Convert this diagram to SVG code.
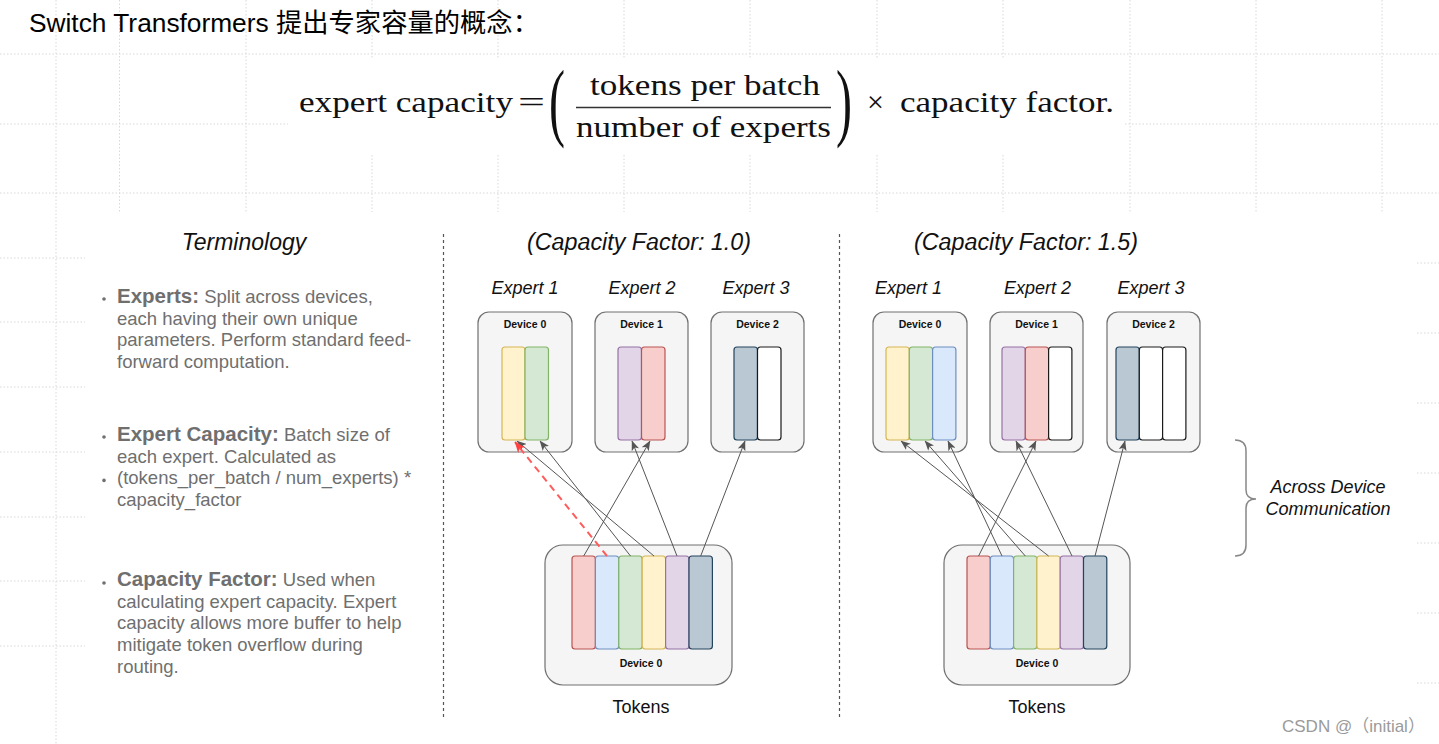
<svg xmlns="http://www.w3.org/2000/svg" width="1439" height="744" viewBox="0 0 1439 744">
<style>
.grid{stroke:#d8d8d8;stroke-width:1;stroke-dasharray:1.5 2;fill:none}
.sans{font-family:"Liberation Sans",Arial,"Noto Sans CJK SC",sans-serif}
.serif{font-family:"Liberation Serif","Times New Roman",serif;font-size:30px;fill:#111}
.term{font-size:18.5px;fill:#6f6f6f}
.tb{font-weight:bold;font-size:20.5px}
.head{font-style:italic;font-size:23px;fill:#111;text-anchor:middle}
.exp{font-style:italic;font-size:18px;fill:#111;text-anchor:middle}
.dev{fill:#f5f5f5;stroke:#707070;stroke-width:1.2}
.dl{font-weight:bold;font-size:10.5px;fill:#111;text-anchor:middle}
.y{fill:#fff2cc;stroke:#d6b656;stroke-width:1.2}
.g{fill:#d5e8d4;stroke:#82b366;stroke-width:1.2}
.b{fill:#dae8fc;stroke:#6c8ebf;stroke-width:1.2}
.r{fill:#f8cecc;stroke:#b85450;stroke-width:1.2}
.p{fill:#e1d5e7;stroke:#9673a6;stroke-width:1.2}
.s{fill:#bac8d3;stroke:#23445d;stroke-width:1.2}
.w{fill:#ffffff;stroke:#1a1a1a;stroke-width:1.2}
.sep{stroke:#555;stroke-width:1.2;stroke-dasharray:3 3;fill:none}
.cn{stroke:#555;stroke-width:1;fill:none;marker-end:url(#ah)}
.ov{stroke:#ff5c5c;stroke-width:2;stroke-dasharray:7 5;fill:none;marker-end:url(#ahr)}
.bul{fill:#6f6f6f}
.lbl{font-size:18px;fill:#111;text-anchor:middle}
</style>
<defs>
<marker id="ah" viewBox="0 0 10 8" refX="9.5" refY="4" markerWidth="10" markerHeight="8" markerUnits="userSpaceOnUse" orient="auto"><path d="M0,0 L10,4 L0,8 L2.5,4 z" fill="#555"/></marker>
<marker id="ahr" viewBox="0 0 10 8" refX="9.5" refY="4" markerWidth="11" markerHeight="9" markerUnits="userSpaceOnUse" orient="auto"><path d="M0,0 L10,4 L0,8 L2.5,4 z" fill="#ff4040"/></marker>
</defs>
<rect width="1439" height="744" fill="#ffffff"/>
<g id="grid" class="grid">
<path d="M0,54H1439 M0,124H288 M1125,124H1439 M0,193H1439"/>
<path d="M56,0V744 M119.5,0V212 M246,0V212 M1130,0V212 M1256,0V212 M1382,0V212"/>
<path d="M372,0V58 M372,155V212 M498,0V58 M498,155V212 M624,0V58 M624,155V212 M750,0V58 M750,155V212 M877,0V58 M877,155V212 M1003,0V58 M1003,155V212"/>
<path d="M0,258H85 M0,322H85 M0,387H85 M0,452H85 M0,517H85 M0,581H85 M0,646H85"/>
<path d="M1417,263H1439 M1417,333H1439 M1417,403H1439 M1417,473H1439 M1417,543H1439 M1417,613H1439 M1417,683H1439"/>
</g>
<g id="title">
<text class="sans" x="29" y="32" font-size="26.3" fill="#000">Switch Transformers 提出专家容量的概念：</text>
</g>
<g id="formula" class="serif">
<text x="299" y="112" textLength="214" lengthAdjust="spacingAndGlyphs">expert capacity</text>
<text x="518" y="112" textLength="27" lengthAdjust="spacingAndGlyphs">=</text>
<text transform="translate(549,129.5) scale(1.6,2.9)">(</text>
<text x="590" y="95" textLength="230" lengthAdjust="spacingAndGlyphs">tokens per batch</text>
<line x1="576" y1="107.5" x2="831" y2="107.5" stroke="#333" stroke-width="1.6"/>
<text x="576" y="137" textLength="255" lengthAdjust="spacingAndGlyphs">number of experts</text>
<text transform="translate(836,129.5) scale(1.6,2.9)">)</text>
<text x="867" y="112">×</text>
<text x="900" y="112" textLength="214" lengthAdjust="spacingAndGlyphs">capacity factor.</text>
</g>
<g id="separators">
<line class="sep" x1="443.5" y1="234" x2="443.5" y2="719"/>
<line class="sep" x1="839.5" y1="234" x2="839.5" y2="719"/>
</g>
<g id="terminology" class="sans">
<text class="head" x="244" y="250" font-size="22.5">Terminology</text>
<circle class="bul" cx="104" cy="299" r="1.8"/>
<circle class="bul" cx="104" cy="437" r="1.8"/>
<circle class="bul" cx="104" cy="480.4" r="1.8"/>
<circle class="bul" cx="104" cy="583" r="1.8"/>
<text class="term" x="117"><tspan x="117" y="303"><tspan class="tb">Experts:</tspan> Split across devices,</tspan><tspan x="117" y="324.7">each having their own unique</tspan><tspan x="117" y="346.4">parameters. Perform standard feed-</tspan><tspan x="117" y="368.1">forward computation.</tspan></text>
<text class="term" x="117"><tspan x="117" y="441"><tspan class="tb">Expert Capacity:</tspan> Batch size of</tspan><tspan x="117" y="462.7">each expert. Calculated as</tspan><tspan x="117" y="484.4">(tokens_per_batch / num_experts) *</tspan><tspan x="117" y="506.1">capacity_factor</tspan></text>
<text class="term" x="117"><tspan x="117" y="586"><tspan class="tb">Capacity Factor:</tspan> Used when</tspan><tspan x="117" y="607.7">calculating expert capacity. Expert</tspan><tspan x="117" y="629.4">capacity allows more buffer to help</tspan><tspan x="117" y="651.1">mitigate token overflow during</tspan><tspan x="117" y="672.8">routing.</tspan></text>
</g>
<g id="cf10-title" class="sans"><text class="head" x="639" y="250" textLength="224" lengthAdjust="spacingAndGlyphs">(Capacity Factor: 1.0)</text></g>
<g id="cf15-title" class="sans"><text class="head" x="1026" y="250" textLength="224" lengthAdjust="spacingAndGlyphs">(Capacity Factor: 1.5)</text></g>
<g id="cf10-expert1" class="sans">
<text class="exp" x="525" y="294">Expert 1</text>
<rect class="dev" x="478" y="312" width="94" height="140" rx="11"/>
<text class="dl" x="525" y="328">Device 0</text>
<rect class="y" x="502" y="347" width="23" height="93" rx="3"/>
<rect class="g" x="525" y="347" width="23.5" height="93" rx="3"/>
</g>
<g id="cf10-expert2" class="sans">
<text class="exp" x="642" y="294">Expert 2</text>
<rect class="dev" x="595" y="312" width="93" height="140" rx="11"/>
<text class="dl" x="641.5" y="328">Device 1</text>
<rect class="p" x="618" y="347" width="23.5" height="93" rx="3"/>
<rect class="r" x="641.5" y="347" width="23.5" height="93" rx="3"/>
</g>
<g id="cf10-expert3" class="sans">
<text class="exp" x="756" y="294">Expert 3</text>
<rect class="dev" x="711" y="312" width="93" height="140" rx="11"/>
<text class="dl" x="757.5" y="328">Device 2</text>
<rect class="s" x="734" y="347" width="23.5" height="93" rx="3"/>
<rect class="w" x="757.5" y="347" width="23.5" height="93" rx="3"/>
</g>
<g id="cf10-tokens" class="sans">
<rect class="dev" x="545" y="545" width="187" height="140" rx="18"/>
<rect class="r" x="572" y="556" width="23.4" height="93" rx="3"/>
<rect class="b" x="595.4" y="556" width="23.4" height="93" rx="3"/>
<rect class="g" x="618.8" y="556" width="23.4" height="93" rx="3"/>
<rect class="y" x="642.2" y="556" width="23.4" height="93" rx="3"/>
<rect class="p" x="665.6" y="556" width="23.4" height="93" rx="3"/>
<rect class="s" x="689" y="556" width="23.4" height="93" rx="3"/>
<text class="dl" x="641" y="667">Device 0</text>
<text class="lbl" x="641" y="713">Tokens</text>
</g>
<g id="cf15-expert1" class="sans">
<text class="exp" x="908.5" y="294">Expert 1</text>
<rect class="dev" x="873" y="312" width="94" height="140" rx="11"/>
<text class="dl" x="920" y="328">Device 0</text>
<rect class="y" x="886" y="347" width="23.3" height="93" rx="3"/>
<rect class="g" x="909.3" y="347" width="23.3" height="93" rx="3"/>
<rect class="b" x="932.6" y="347" width="23.3" height="93" rx="3"/>
</g>
<g id="cf15-expert2" class="sans">
<text class="exp" x="1037.5" y="294">Expert 2</text>
<rect class="dev" x="990" y="312" width="93" height="140" rx="11"/>
<text class="dl" x="1036.5" y="328">Device 1</text>
<rect class="p" x="1002" y="347" width="23.3" height="93" rx="3"/>
<rect class="r" x="1025.3" y="347" width="23.3" height="93" rx="3"/>
<rect class="w" x="1048.6" y="347" width="23.3" height="93" rx="3"/>
</g>
<g id="cf15-expert3" class="sans">
<text class="exp" x="1151" y="294">Expert 3</text>
<rect class="dev" x="1107" y="312" width="93" height="140" rx="11"/>
<text class="dl" x="1153.5" y="328">Device 2</text>
<rect class="s" x="1116" y="347" width="23.3" height="93" rx="3"/>
<rect class="w" x="1139.3" y="347" width="23.3" height="93" rx="3"/>
<rect class="w" x="1162.6" y="347" width="23.3" height="93" rx="3"/>
</g>
<g id="cf15-tokens" class="sans">
<rect class="dev" x="944" y="545" width="186" height="140" rx="18"/>
<rect class="r" x="967" y="556" width="23.3" height="93" rx="3"/>
<rect class="b" x="990.3" y="556" width="23.3" height="93" rx="3"/>
<rect class="g" x="1013.6" y="556" width="23.3" height="93" rx="3"/>
<rect class="y" x="1036.9" y="556" width="23.3" height="93" rx="3"/>
<rect class="p" x="1060.2" y="556" width="23.3" height="93" rx="3"/>
<rect class="s" x="1083.5" y="556" width="23.3" height="93" rx="3"/>
<text class="dl" x="1037" y="667">Device 0</text>
<text class="lbl" x="1037" y="713">Tokens</text>
</g>
<g id="connectors">
<line class="cn" x1="583.7" y1="556" x2="650" y2="441"/>
<line class="cn" x1="630.5" y1="556" x2="540" y2="441"/>
<line class="cn" x1="654" y1="556" x2="517" y2="441"/>
<line class="cn" x1="677" y1="556" x2="632" y2="441"/>
<line class="cn" x1="700.7" y1="556" x2="745" y2="441"/>
<line class="ov" x1="607" y1="556" x2="515" y2="442"/>
<line class="cn" x1="978.6" y1="556" x2="1036" y2="441"/>
<line class="cn" x1="1002" y1="556" x2="948" y2="441"/>
<line class="cn" x1="1025.3" y1="556" x2="925" y2="441"/>
<line class="cn" x1="1048.6" y1="556" x2="901" y2="441"/>
<line class="cn" x1="1072" y1="556" x2="1016" y2="441"/>
<line class="cn" x1="1095" y1="556" x2="1125" y2="441"/>
</g>
<g id="across-device">
<path d="M1235,440 Q1246,440 1246,451 L1246,490 Q1246,499 1256,499 Q1246,499 1246,508 L1246,545 Q1246,556 1235,556" fill="none" stroke="#888" stroke-width="1.5"/>
<text class="sans exp" x="1328" y="493">Across Device</text>
<text class="sans exp" x="1328" y="515">Communication</text>
</g>
<g id="watermark">
<text class="sans" x="1282" y="732" font-size="17" fill="#9a9a9a">CSDN @（initial）</text>
</g>
</svg>
